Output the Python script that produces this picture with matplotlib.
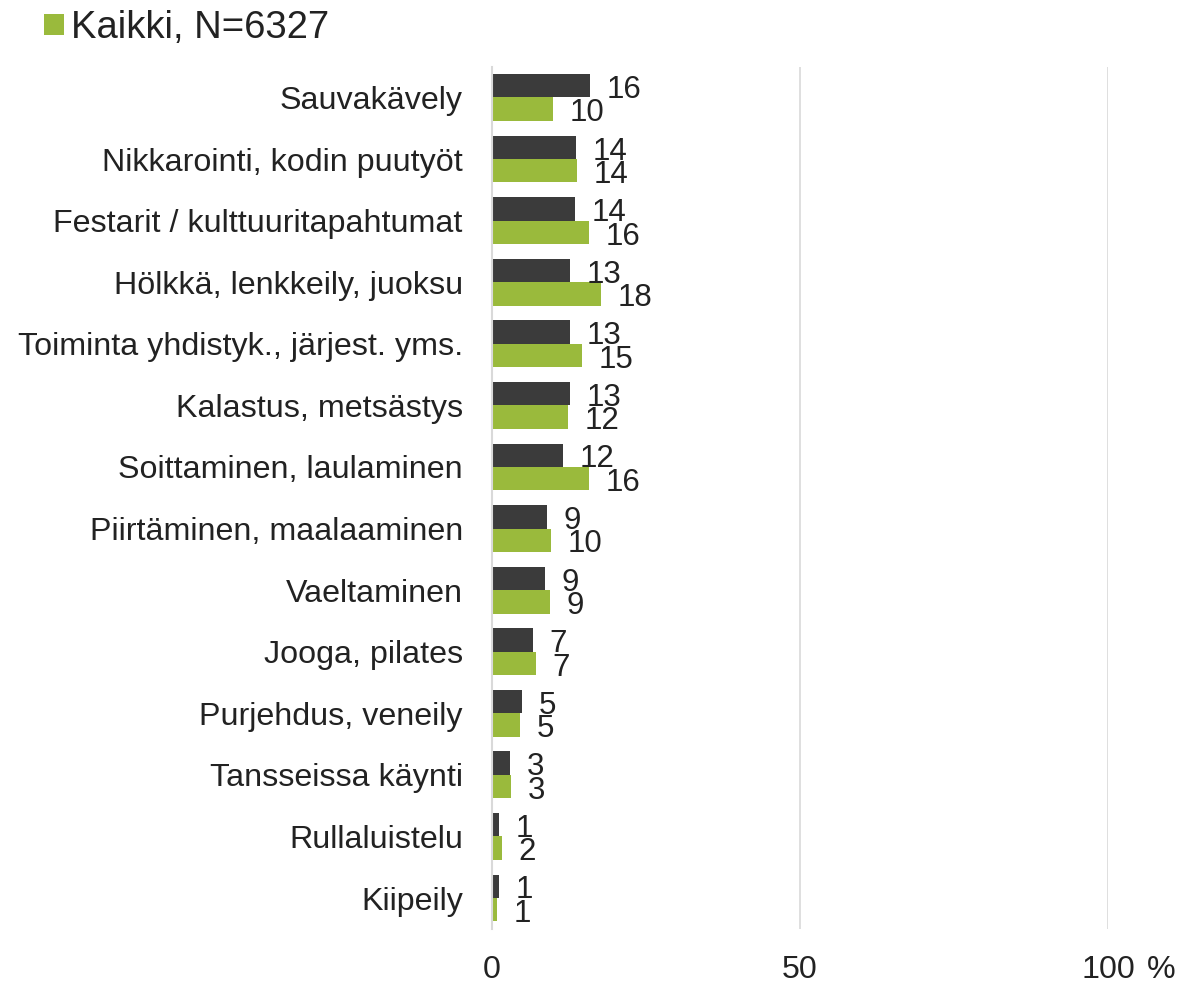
import matplotlib
matplotlib.use("Agg")
import matplotlib.pyplot as plt
import numpy as np

plt.rcParams['font.family'] = ['Liberation Sans', 'DejaVu Sans']

categories = [
    "Sauvakävely",
    "Nikkarointi, kodin puutyöt",
    "Festarit / kulttuuritapahtumat",
    "Hölkkä, lenkkeily, juoksu",
    "Toiminta yhdistyk., järjest. yms.",
    "Kalastus, metsästys",
    "Soittaminen, laulaminen",
    "Piirtäminen, maalaaminen",
    "Vaeltaminen",
    "Jooga, pilates",
    "Purjehdus, veneily",
    "Tansseissa käynti",
    "Rullaluistelu",
    "Kiipeily",
]
dark_values = [15.9, 13.7, 13.5, 12.7, 12.6, 12.6, 11.6, 8.9, 8.6, 6.6, 4.8, 2.9, 1.1, 1.1]
green_values = [9.9, 13.8, 15.7, 17.7, 14.6, 12.3, 15.7, 9.6, 9.4, 7.1, 4.6, 3.1, 1.6, 0.8]
green_label = "Kaikki, N=6327"
xticks = [0, 50, 100]

DARK = "#3b3b3b"
GREEN = "#9aba3c"
TEXT = "#222222"
GRID = "#d9d9d9"

fig = plt.figure(figsize=(11.98, 9.86), dpi=100)
ax = fig.add_axes([492/1198, 1 - 928.8/986, (1108-492)/1198, (928.8-66.7)/986])

y = np.arange(len(categories))
h = 0.38
bd = ax.barh(y - h/2, dark_values, height=h, color=DARK, label="_nolegend_", zorder=3)
bg = ax.barh(y + h/2, green_values, height=h, color=GREEN, label=green_label, zorder=3)

for bars, vals in ((bd, dark_values), (bg, green_values)):
    for rect, v in zip(bars, vals):
        ax.annotate(f"{v:.0f}", xy=(rect.get_width(), rect.get_y() + rect.get_height()/2),
                    xytext=(12, -3), textcoords="offset points",
                    ha="left", va="center", fontsize=22.5, color=TEXT, zorder=4)

ax.set_xlim(0, 100)
ax.set_ylim(len(categories) - 0.5, -0.5)
ax.set_yticks(y)
ax.set_yticklabels(categories, fontsize=23.2, color=TEXT)
ax.set_xticks(xticks)
ax.set_xticklabels([str(t) for t in xticks], fontsize=23.2, color=TEXT)
ax.tick_params(axis='y', length=0, pad=21)
ax.tick_params(axis='x', length=0, pad=19)
for s in ("top", "right", "bottom"):
    ax.spines[s].set_visible(False)
ax.spines["left"].set_color(GRID)
ax.spines["left"].set_linewidth(1.5)
ax.spines["left"].set_zorder(5)
for t in xticks[1:]:
    ax.axvline(t, color=GRID, linewidth=1.2, zorder=1)

ax.annotate("%", xy=(100, 0), xycoords=("data", "axes fraction"),
            xytext=(28, -19), textcoords="offset points",
            ha="left", va="top", fontsize=23.2, color=TEXT, annotation_clip=False)

fig.legend(handles=[bg], labels=[green_label], loc="upper left",
           bbox_to_anchor=(0.018, 1.013), frameon=False, fontsize=27.5,
           handlelength=0.5, handleheight=0.5, handletextpad=0.2,
           borderaxespad=0.2, labelcolor=TEXT)

fig.savefig("out.png", dpi=100)
